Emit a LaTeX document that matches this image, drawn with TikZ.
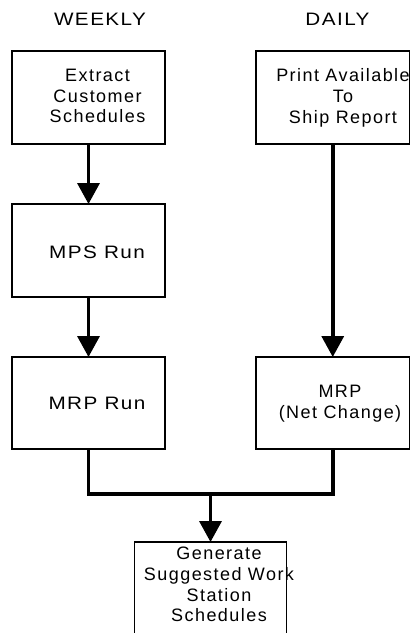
\documentclass[tikz,border=0pt]{standalone}
\usepackage{fontspec}
\setmainfont{Liberation Sans}[LetterSpace=8]
\newfontfamily\widefont{Liberation Sans}[FakeStretch=1.15,LetterSpace=8]
\usetikzlibrary{arrows.meta}
\begin{document}
\begin{tikzpicture}[x=1pt,y=-1pt,
  box/.style={draw=black,line width=1.2pt,minimum width=153pt,minimum height=93pt,inner sep=0pt,outer sep=0pt},
  txt/.style={font=\fontsize{18}{20.8}\selectfont,align=center,inner sep=0pt,text=black},
  widetxt/.style={txt,font=\fontsize{18}{20.8}\selectfont\widefont},
  flow/.style={line width=3.5pt,-{Triangle[width=22pt,length=21pt]}},
  link/.style={line width=3.5pt,line join=miter}]
\useasboundingbox (0,0) rectangle (410,633);
\clip (0,0) rectangle (410,633);
% boxes
\node[box] (b1) at (88.5,97.5) {};
\node[box] (b2) at (88.5,250.5) {};
\node[box,minimum height=92pt] (b3) at (88.5,403) {};
\node[box,minimum width=153.5pt] (r1) at (332.75,97.5) {};
\node[box,minimum width=153.5pt,minimum height=92pt] (r2) at (332.75,403) {};
\node[box,minimum width=152pt,minimum height=110pt] (b5) at (210.5,597) {};
% texts
\node[widetxt,anchor=base] (wk) at (100,25) {WEEKLY};
\node[widetxt,anchor=base] (dl) at (337.5,25) {DAILY};
\node[txt] (t1) at (97.5,96) {Extract\\Customer\\Schedules};
\node[txt] (t2) at (343,98) {Print Available\\To\hspace*{26pt}\\Ship Report};
\node[widetxt,anchor=base] (t3) at (97,258) {MPS Run};
\node[widetxt,anchor=base] (t4) at (97,409) {MRP Run};
\node[txt] (t5) at (340,403.8) {MRP\\(Net Change)};
\node[txt] (t6) at (219,584.4) {Generate\\Suggested Work\\Station\\Schedules};
% connectors
\coordinate (m) at (210.5,494);
\draw[flow] (b1.south) -- (b2.north);
\draw[flow] (b2.south) -- (b3.north);
\draw[flow] (r1.south) -- (r2.north);
\draw[link] (b3.south) |- (m) -| (r2.south);
\draw[flow] (m) -- (b5.north);
\end{tikzpicture}
\end{document}
